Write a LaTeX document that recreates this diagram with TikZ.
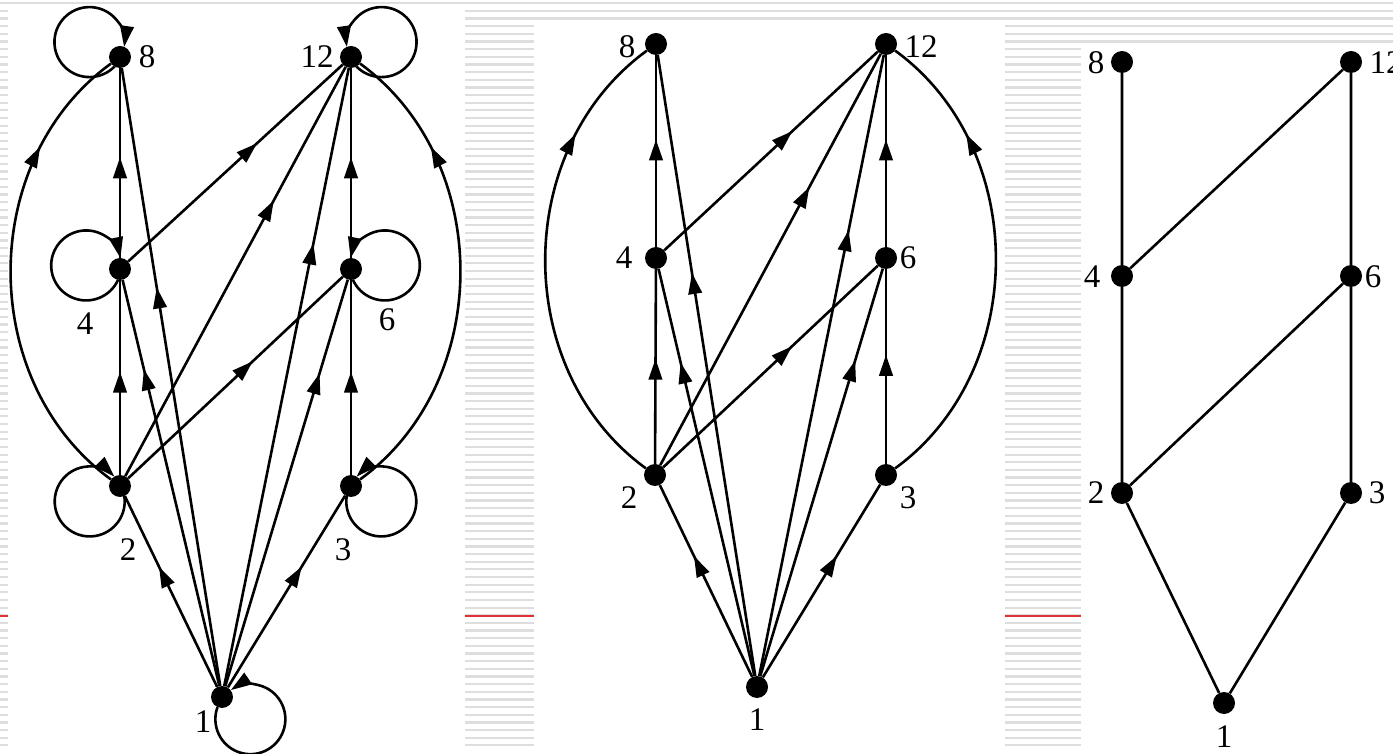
\documentclass[tikz,border=0pt]{standalone}
\usepackage{fontspec}
\setmainfont{Liberation Serif}
\usetikzlibrary{arrows.meta,decorations.markings}
\begin{document}
\begin{tikzpicture}[x=1pt,y=1pt,
  >={Triangle[length=21pt,width=13.5pt]},
  dot/.style={circle,fill=black,inner sep=0pt,minimum size=22pt},
  lab/.style={font=\fontsize{33}{36}\selectfont,inner sep=0pt},
  ln/.style={line width=2.6pt},
  stripe/.style={line width=2.2pt,draw=black!13},
  midarr/.style={postaction={decorate},decoration={markings,mark=at position #1 with {\arrow{>}}}},
  lp/.style={ln,->}]
\useasboundingbox (0,0) rectangle (1393,753);
\clip (0,0) rectangle (1393,753);
\fill[white] (0,0) rectangle (1393,753);
% background stripes
\foreach \i in {0,...,97} \draw[stripe] (0,{749.7-7.65*\i}) -- (1393,{749.7-7.65*\i});
\draw[line width=1.3pt,draw={rgb,255:red,224;green,50;blue,50}] (0,137) -- (1393,137);
% panels
\fill[white] (7.5,0) rectangle (465,747);
\fill[white] (534,0) rectangle (1005,731);
\fill[white] (1081,0) rectangle (1393,708);

% ---------------- panel 1
\node[dot] (a1) at (222,56) {};
\node[dot] (a2) at (120,267) {};
\node[dot] (a3) at (351,267) {};
\node[dot] (a4) at (120,484) {};
\node[dot] (a6) at (351,484) {};
\node[dot] (a8) at (120,696) {};
\node[dot] (a12) at (351,696) {};
\node[lab] (ta8) at (147,696) {8};
\node[lab] (ta12) at (317,696) {12};
\node[lab] (ta4) at (85,429) {4};
\node[lab] (ta6) at (387,433) {6};
\node[lab] (ta2) at (128,203) {2};
\node[lab] (ta3) at (343,203) {3};
\node[lab] (ta1) at (203,31) {1};
\draw[ln,midarr=0.63] (a1) -- (a2);
\draw[ln,midarr=0.63] (a1) -- (a3);
\draw[ln,midarr=0.78] (a1) -- (a4);
\draw[ln,midarr=0.77] (a1) -- (a6);
\draw[ln,midarr=0.645] (a1) -- (a8);
\draw[ln,midarr=0.716] (a1) -- (a12);
\draw[ln,midarr=0.53] (a2) -- (a4);
\draw[ln,midarr=0.53] (a3) -- (a6);
\draw[ln,midarr=0.53] (a4) -- (a8);
\draw[ln,midarr=0.53] (a6) -- (a12);
\draw[ln,midarr=0.60] (a4) -- (a12);
\draw[ln,midarr=0.674] (a2) -- (a12);
\draw[ln,midarr=0.58] (a2) -- (a6);
\draw[ln,midarr=0.77] (a2) to[out=144,in=-144,looseness=1.02] (a8);
\draw[ln,midarr=0.77] (a3) to[out=36,in=-36,looseness=1.02] (a12);
% self loops (circles through the dots)
\draw[lp] (a8.center) ++(154:34) ++(-44:35) arc[start angle=-44,end angle=-368,radius=35];
\draw[lp] (a12.center) ++(26:34) ++(224:35) arc[start angle=224,end angle=548,radius=35];
\draw[lp] (a4.center) ++(174:34) ++(-24:35) arc[start angle=-24,end angle=-348,radius=35];
\draw[lp] (a6.center) ++(6:34) ++(204:35) arc[start angle=204,end angle=528,radius=35];
\draw[lp] (a2.center) ++(207:34) ++(9:35) arc[start angle=9,end angle=-315,radius=35];
\draw[lp] (a3.center) ++(-27:34) ++(171:35) arc[start angle=171,end angle=495,radius=35];
\draw[lp] (a1.center) ++(-38:36) ++(160:35) arc[start angle=160,end angle=484,radius=35];

% ---------------- panel 2
\node[dot] (b1) at (757,66) {};
\node[dot] (b2) at (655,278) {};
\node[dot] (b3) at (886,278) {};
\node[dot] (b4) at (656,495) {};
\node[dot] (b6) at (886,495) {};
\node[dot] (b8) at (656,709) {};
\node[dot] (b12) at (886,709) {};
\node[lab] (tb8) at (627,706) {8};
\node[lab] (tb12) at (921,706) {12};
\node[lab] (tb4) at (624,495) {4};
\node[lab] (tb6) at (908,495) {6};
\node[lab] (tb2) at (629,255) {2};
\node[lab] (tb3) at (908,255) {3};
\node[lab] (tb1) at (757,33) {1};
\draw[ln,midarr=0.63] (b1) -- (b2);
\draw[ln,midarr=0.63] (b1) -- (b3);
\draw[ln,midarr=0.77] (b1) -- (b4);
\draw[ln,midarr=0.775] (b1) -- (b6);
\draw[ln,midarr=0.649] (b1) -- (b8);
\draw[ln,midarr=0.718] (b1) -- (b12);
\draw[ln,midarr=0.54] (b2) -- (b4);
\draw[ln,midarr=0.56] (b3) -- (b6);
\draw[ln,midarr=0.56] (b4) -- (b8);
\draw[ln,midarr=0.56] (b6) -- (b12);
\draw[ln,midarr=0.60] (b4) -- (b12);
\draw[ln,midarr=0.676] (b2) -- (b12);
\draw[ln,midarr=0.60] (b2) -- (b6);
\draw[ln,midarr=0.77] (b2) to[out=144,in=-144,looseness=1.02] (b8);
\draw[ln,midarr=0.77] (b3) to[out=36,in=-36,looseness=1.02] (b12);

% ---------------- panel 3
\node[dot] (c1) at (1224,50) {};
\node[dot] (c2) at (1122,260) {};
\node[dot] (c3) at (1351,260) {};
\node[dot] (c4) at (1122,477) {};
\node[dot] (c6) at (1351,477) {};
\node[dot] (c8) at (1122,691) {};
\node[dot] (c12) at (1351,691) {};
\node[lab] (tc8) at (1096,690) {8};
\node[lab] (tc12) at (1386,690) {12};
\node[lab] (tc4) at (1092,476) {4};
\node[lab] (tc6) at (1373,476) {6};
\node[lab] (tc2) at (1096,260) {2};
\node[lab] (tc3) at (1377,260) {3};
\node[lab] (tc1) at (1224,16) {1};
\draw[ln] (c8) -- (c4) -- (c2) -- (c1) -- (c3) -- (c6) -- (c12) -- (c4);
\draw[ln] (c2) -- (c6);
\end{tikzpicture}
\end{document}
